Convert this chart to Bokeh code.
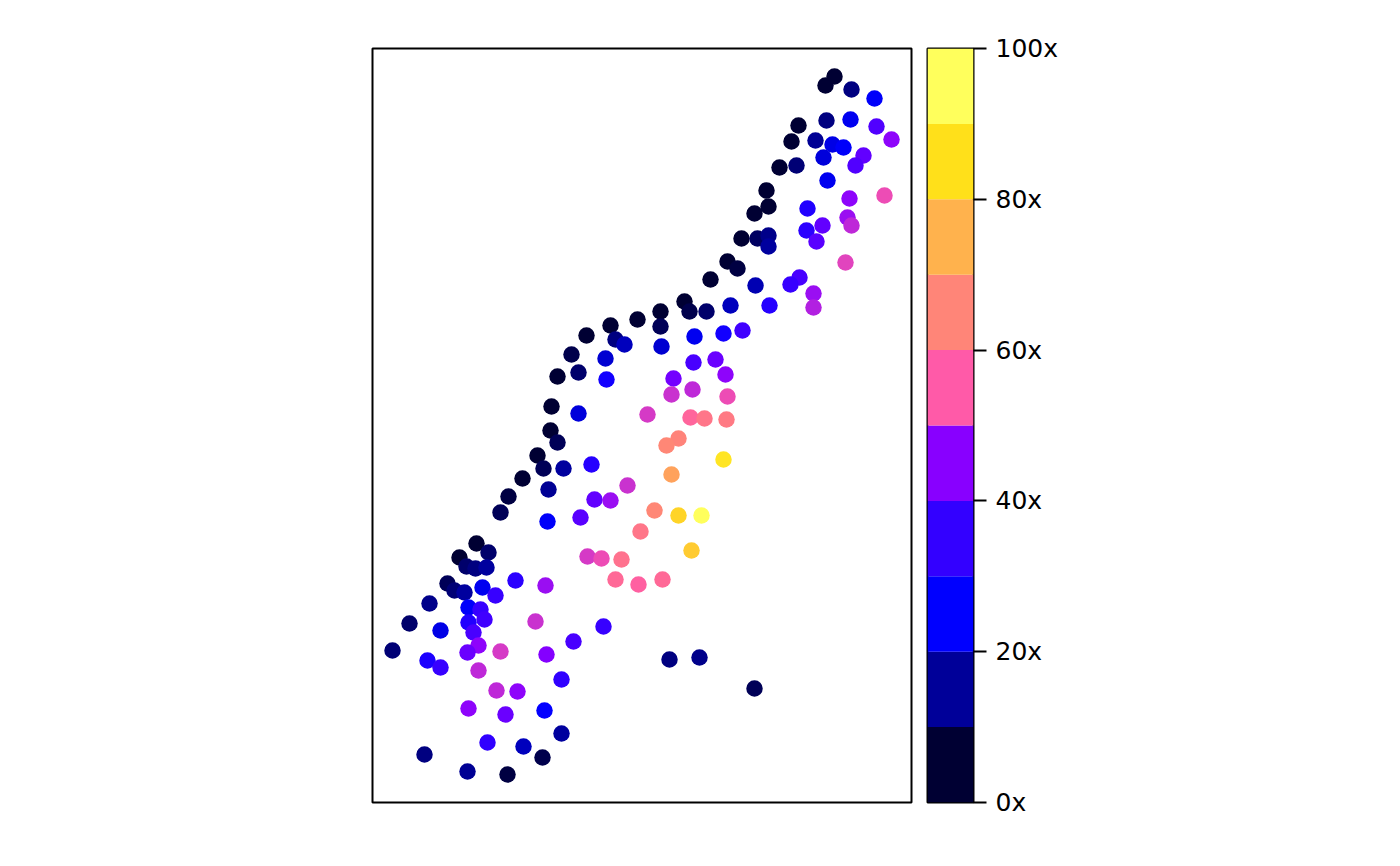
from bokeh.embed import file_html
from bokeh.resources import INLINE
from bokeh.layouts import row
from bokeh.models import ColumnDataSource, FixedTicker, LinearAxis, LinearColorMapper, Range1d
from bokeh.plotting import figure
from bokeh.transform import transform
import numpy as np

east = [
    104, 116, 87, 94, 103, 114, 75, 82, 92, 110, 143, 173, 123, 57, 96, 108, 112, 96, 37, 68, 101, 163,
    201, 106, 95, 128, 20, 55, 68, 174, 106, 189, 124, 145, 96, 133, 172, 189, 115, 151, 170, 52, 95, 135,
    179, 178, 185, 165, 171, 191, 219, 206, 185, 206, 199, 214, 238, 233, 234, 243, 252, 265, 288, 288, 289,
    312, 317, 334, 358, 322, 351, 370, 321, 343, 353, 301, 299, 320, 355, 275, 318, 332, 354, 306, 294, 351,
    299, 255, 222, 238, 282, 306, 329, 208, 175, 268, 319, 215, 229, 249, 243, 266, 290, 176, 128, 136, 150,
    462, 453, 479, 502, 478, 454, 426, 504, 519, 419, 443, 460, 471, 491, 483, 451, 424, 407, 455, 394, 512,
    477, 396, 382, 435, 475, 479, 450, 434, 369, 385, 396, 396, 444, 355, 365, 473, 338, 383, 427, 418, 441,
    441, 397,
    297, 327, 382, 231,
]
north = [
    259, 250, 245, 236, 234, 235, 219, 212, 210, 215, 222, 217, 207, 199, 195, 193, 183, 180, 179, 172, 170, 181,
    161, 157, 150, 151, 152, 142, 135, 148, 132, 123, 112, 111, 94, 88, 92, 69, 60, 56, 45, 48, 31, 28,
    396, 372, 360, 347, 334, 334, 338, 389, 426, 430, 448, 467, 477, 444, 423, 463, 458, 483, 491, 476, 456,
    501, 491, 491, 497, 466, 469, 472, 440, 443, 428, 424, 408, 413, 406, 388, 385, 384, 383, 364, 357, 343,
    328, 317, 303, 302, 292, 287, 287, 285, 281, 271, 252, 246, 244, 243, 223, 218, 223, 313, 290, 306, 324,
    726, 717, 713, 704, 683, 682, 677, 676, 663, 661, 662, 658, 655, 647, 637, 645, 637, 635, 622, 612, 607,
    604, 596, 589, 594, 585, 577, 577, 572, 564, 564, 567, 556, 561, 541, 534, 540, 523, 517, 525, 518, 509,
    495, 497,
    143, 145, 114, 176,
]
coverage = [
    1, 10, 3, 10, 12, 15, 8, 11, 15, 23, 33, 46, 35, 13, 24, 35, 36, 31, 10, 22, 37, 50,
    37, 45, 41, 51, 11, 30, 35, 44, 49, 34, 49, 45, 45, 41, 25, 15, 34, 18, 7, 12, 14, 6,
    1, 3, 8, 1, 8, 15, 32, 21, 2, 10, 7, 2, 2, 20, 28, 12, 18, 1, 2, 8, 20,
    1, 7, 10, 18, 23, 28, 36, 37, 41, 45, 42, 50, 49, 53, 51, 58, 61, 62, 64, 65, 86,
    71, 50, 40, 46, 65, 82, 95, 39, 24, 61, 80, 51, 53, 60, 59, 56, 59, 14, 8, 6, 4,
    1, 1, 12, 24, 23, 12, 1, 38, 45, 1, 14, 22, 24, 40, 38, 21, 11, 1, 23, 1, 53,
    45, 4, 1, 31, 46, 49, 40, 33, 1, 9, 13, 15, 39, 1, 6, 52, 1, 17, 37, 35, 46,
    48, 32,
    12, 13, 8, 35,
]

bar_levels = [0, 10, 20, 30, 40, 50, 60, 70, 80, 90, 100]
bar_colors = ["#000033", "#000099", "#0000FF", "#3300FF", "#8800FF",
              "#FF5AA8", "#FF8578", "#FFB24D", "#FFE01A", "#FFFF5C"]
tick_values = [0, 20, 40, 60, 80, 100]
tick_labels = ["0x", "20x", "40x", "60x", "80x", "100x"]

FONT = "DejaVu Sans"

# Points use a smooth blend of the colour-bar's classes, anchored at class midpoints.
rgb = np.array([[int(c[i:i + 2], 16) for i in (1, 3, 5)] for c in bar_colors], dtype=float)
mids = (np.array(bar_levels[:-1]) + np.array(bar_levels[1:])) / 2
grid = np.arange(0.5, 100.5, 1.0)
smooth = ["#%02X%02X%02X" % tuple(int(round(np.interp(g, mids, rgb[:, k]))) for k in range(3)) for g in grid]
mapper = LinearColorMapper(palette=smooth, low=0, high=100)

src = ColumnDataSource(dict(east=east, north=north, coverage=coverage))

main = figure(width=919, height=858, output_backend="svg", toolbar_location=None,
              x_range=Range1d(0, 539), y_range=Range1d(0, 754),
              min_border_left=372, min_border_right=8, min_border_top=48, min_border_bottom=56)
main.xaxis.visible = False
main.yaxis.visible = False
main.grid.visible = False
main.outline_line_color = "black"
main.outline_line_width = 2
main.scatter("east", "north", source=src, size=16.5, line_color=None,
             fill_color=transform("coverage", mapper))

bar = figure(width=8 + 46 + 120, height=858, output_backend="svg", toolbar_location=None,
             x_range=Range1d(0, 1), y_range=Range1d(0, 100),
             min_border_left=8, min_border_right=120, min_border_top=48, min_border_bottom=56)
bar.xaxis.visible = False
bar.yaxis.visible = False
bar.grid.visible = False
bar.outline_line_color = "black"
bar.outline_line_width = 2
bar.quad(left=0, right=1, bottom=bar_levels[:-1], top=bar_levels[1:], fill_color=bar_colors, line_color=None)

axis = LinearAxis(ticker=FixedTicker(ticks=tick_values),
                  major_label_overrides=dict(zip(tick_values, tick_labels)))
axis.axis_line_color = None
axis.major_tick_line_color = "black"
axis.major_tick_line_width = 2
axis.major_tick_in = 0
axis.major_tick_out = 13
axis.minor_tick_line_color = None
axis.major_label_standoff = 9
axis.major_label_text_font = FONT
axis.major_label_text_font_size = "25px"
axis.major_label_text_color = "black"
bar.add_layout(axis, "right")

layout = row(main, bar, spacing=0)
open("out.html", "w").write(file_html(layout, INLINE))
